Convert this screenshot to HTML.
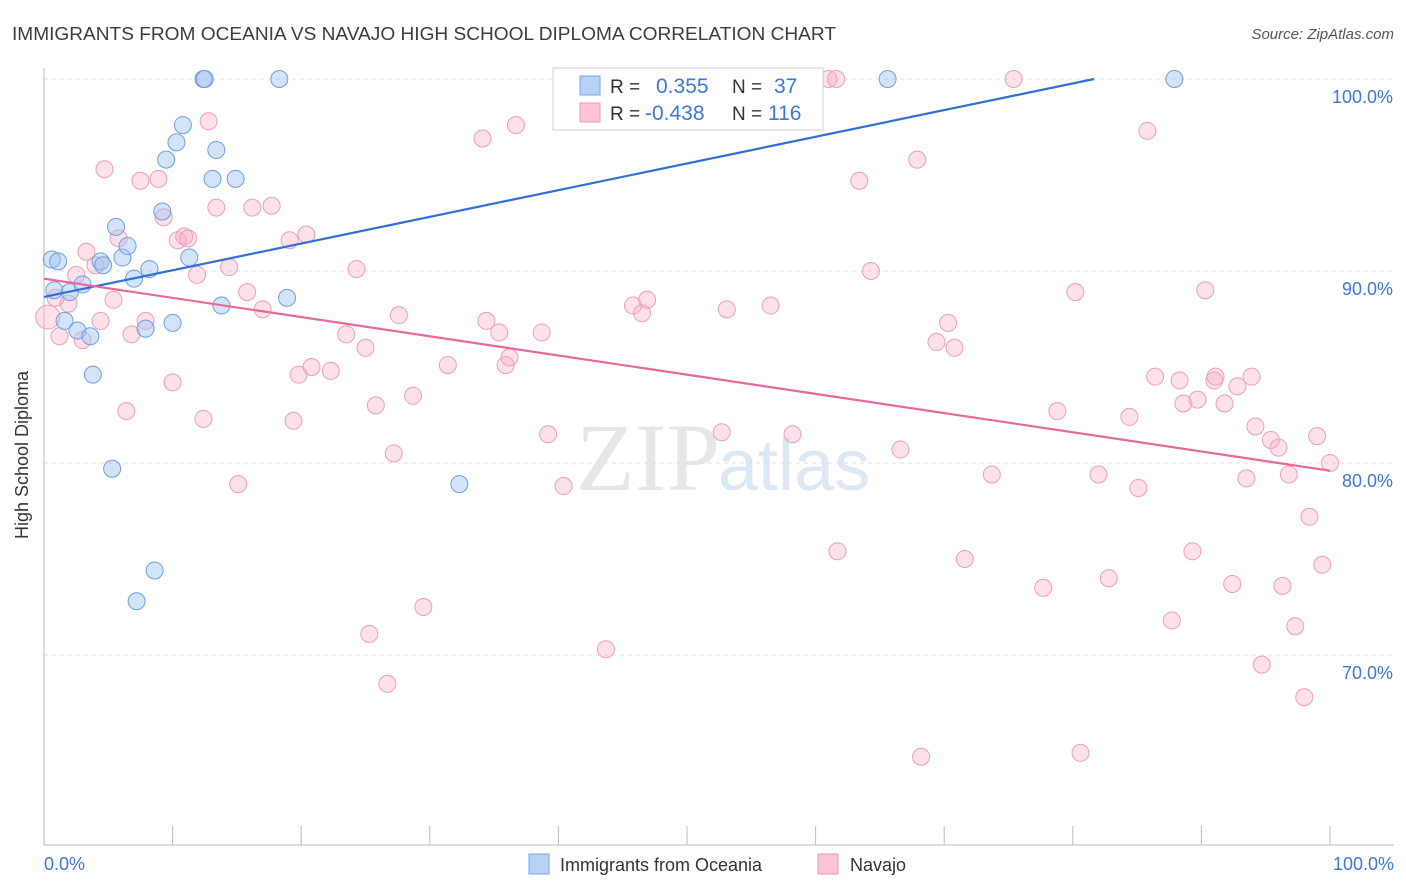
<!DOCTYPE html>
<html><head><meta charset="utf-8"><style>
body{margin:0;background:#fff;font-family:"Liberation Sans",sans-serif;}
svg{display:block}
</style></head><body>
<svg id="chart" width="1406" height="892">
<text x="12" y="40" font-size="18" fill="#3c3c3c" textLength="824" lengthAdjust="spacingAndGlyphs">IMMIGRANTS FROM OCEANIA VS NAVAJO HIGH SCHOOL DIPLOMA CORRELATION CHART</text>
<text x="1394" y="39" font-size="15" fill="#555" text-anchor="end" font-style="italic">Source: ZipAtlas.com</text>
<text x="720" y="490" font-size="96" fill="#e6e6e6" text-anchor="end" font-family="Liberation Serif,serif">ZIP</text>
<text x="718" y="490" font-size="72" fill="#dce7f5">atlas</text>
<g id="grid"></g><g id="axes"></g><g id="pts"></g><g id="lines"></g>
<text x="28" y="455" font-size="18" fill="#333" text-anchor="middle" transform="rotate(-90 28 455)">High School Diploma</text>
<g>
<rect x="553" y="68" width="270" height="62" fill="#fff" stroke="#ccc"/>
<rect x="580" y="76" width="20" height="19" fill="#b8d2f5" stroke="#7aa6e6"/>
<rect x="580" y="103" width="20" height="19" fill="#fbc5d5" stroke="#ec9ab4"/>
<text x="610" y="93" font-size="19" fill="#333">R = </text><text x="656" y="93" font-size="21" fill="#3b78d8">0.355</text>
<text x="732" y="93" font-size="19" fill="#333">N = </text><text x="774" y="93" font-size="21" fill="#3b78d8">37</text>
<text x="610" y="120" font-size="19" fill="#333">R = </text><text x="645" y="120" font-size="21" fill="#3b78d8">-0.438</text>
<text x="732" y="120" font-size="19" fill="#333">N = </text><text x="768" y="120" font-size="21" fill="#3b78d8">116</text>
</g>
<g>
<rect x="529" y="854" width="20" height="20" fill="#b8d2f5" stroke="#7aa6e6"/>
<text x="560" y="871" font-size="18" fill="#333">Immigrants from Oceania</text>
<rect x="818" y="854" width="20" height="20" fill="#fbc5d5" stroke="#ec9ab4"/>
<text x="850" y="871" font-size="18" fill="#333">Navajo</text>
</g>
</svg>
<script>
const blueX=[0.6,1.1,0.8,2.0,3.0,4.4,4.6,6.1,5.6,6.5,7.0,8.2,1.6,2.6,3.6,3.8,5.3,7.2,8.6,7.9,10.0,11.3,9.2,9.5,10.3,10.8,12.4,12.5,13.1,13.4,14.9,13.8,18.3,18.9,32.3,65.6,87.9];
const blueY=[90.6,90.5,89.0,88.9,89.3,90.5,90.3,90.7,92.3,91.3,89.6,90.1,87.4,86.9,86.6,84.6,79.7,72.8,74.4,87.0,87.3,90.7,93.1,95.8,96.7,97.6,100,100,94.8,96.3,94.8,88.2,100,88.6,78.9,100,100];
const pinkX=[0.3,0.9,1.2,1.9,2.5,3.3,3.0,4.0,4.4,4.7,5.4,5.8,6.4,6.8,7.5,7.9,8.9,9.3,10.0,10.4,10.9,11.2,11.9,12.4,12.8,13.4,14.4,15.1,15.8,16.2,17.0,17.7,19.1,19.4,19.8,20.4,20.8,22.3,23.5,24.3,25.0,25.3,25.8,26.7,27.2,27.6,28.7,29.5,31.4,34.1,34.4,35.4,35.9,36.2,36.7,38.7,39.2,40.4,43.7,45.8,46.5,46.9,52.5,52.7,53.1,56.5,58.2,61.0,61.6,61.7,63.4,64.3,66.6,67.9,68.2,69.4,70.3,70.8,71.6,73.7,75.4,77.7,78.8,80.2,80.6,82.0,82.8,84.4,85.1,85.8,86.4,87.7,88.3,88.6,89.3,89.7,90.3,91.0,91.1,91.8,92.4,92.8,93.5,93.9,94.2,94.7,95.4,96.0,96.3,96.8,97.3,98.0,98.4,99.0,99.4,100];
const pinkY=[87.6,88.6,86.6,88.3,89.8,91.0,86.4,90.3,87.4,95.3,88.5,91.7,82.7,86.7,94.7,87.4,94.8,92.8,84.2,91.6,91.8,91.7,89.8,82.3,97.8,93.3,90.2,78.9,88.9,93.3,88.0,93.4,91.6,82.2,84.6,91.9,85.0,84.8,86.7,90.1,86.0,71.1,83.0,68.5,80.5,87.7,83.5,72.5,85.1,96.9,87.4,86.8,85.1,85.5,97.6,86.8,81.5,78.8,70.3,88.2,87.8,88.5,100,81.6,88.0,88.2,81.5,100,100,75.4,94.7,90.0,80.7,95.8,64.7,86.3,87.3,86.0,75.0,79.4,100,73.5,82.7,88.9,64.9,79.4,74.0,82.4,78.7,97.3,84.5,71.8,84.3,83.1,75.4,83.3,89.0,84.3,84.5,83.1,73.7,84.0,79.2,84.5,81.9,69.5,81.2,80.8,73.6,79.4,71.5,67.8,77.2,81.4,74.7,80.0];
const blueTrend=[88.65,0.139];
const pinkTrend=[89.6,-0.100];
const yTicks=[100,90,80,70];
const yTickLabels=["100.0%","90.0%","80.0%","70.0%"];
const xTickLabels=["0.0%","100.0%"];
const NS="http://www.w3.org/2000/svg";
const X=v=>44+v*12.86, Y=v=>79+(100-v)*19.2;
function mk(p,t,a){const e=document.createElementNS(NS,t);for(const k in a)e.setAttribute(k,a[k]);document.getElementById(p).appendChild(e);return e;}
yTicks.forEach((t,i)=>{
 const g=mk('grid','line',{x1:44,x2:1394,y1:Y(t),y2:Y(t),stroke:'#ddd','stroke-dasharray':'4,4'});
 
 
 const l=mk('axes','text',{x:1393,y:Y(t)+24,'font-size':18,fill:'#3b78d8','text-anchor':'end'});
 l.textContent=yTickLabels[i];
 
 
});
const ax=mk('axes','line',{x1:44,x2:1394,y1:845,y2:845,stroke:'#bbb'});


const ay=mk('axes','line',{x1:44,x2:44,y1:68,y2:845,stroke:'#bbb'});


for(let i=0;i<=10;i++){const t=mk('axes','line',{x1:X(i*10),x2:X(i*10),y1:826,y2:845,stroke:'#bbb'});
 
 }
[[0,'start',44],[100,'end',1394]].forEach((d,i)=>{const t=mk('axes','text',{x:d[2],y:870,'font-size':18,fill:'#3b78d8','text-anchor':d[1]});t.textContent=xTickLabels[i];
 
 });
pinkX.forEach((x,i)=>{const c=mk('pts','circle',{cx:X(x),cy:Y(pinkY[i]),r:i===0?12:8.5,fill:'rgba(245,170,195,0.35)',stroke:'#eb9fb8','stroke-width':1});
 
 });
blueX.forEach((x,i)=>{const c=mk('pts','circle',{cx:X(x),cy:Y(blueY[i]),r:8.5,fill:'rgba(160,195,240,0.45)',stroke:'#6e9ee0','stroke-width':1});
 
 });
const bx2=(100-blueTrend[0])/blueTrend[1];
const bl=mk('lines','line',{x1:X(0),y1:Y(blueTrend[0]),x2:X(bx2),y2:Y(100),stroke:'#2f6fd6','stroke-width':2.2});


const pl=mk('lines','line',{x1:X(0),y1:Y(pinkTrend[0]),x2:X(100),y2:Y(pinkTrend[0]+100*pinkTrend[1]),stroke:'#e8689a','stroke-width':2.2});


</script>
</body></html>
